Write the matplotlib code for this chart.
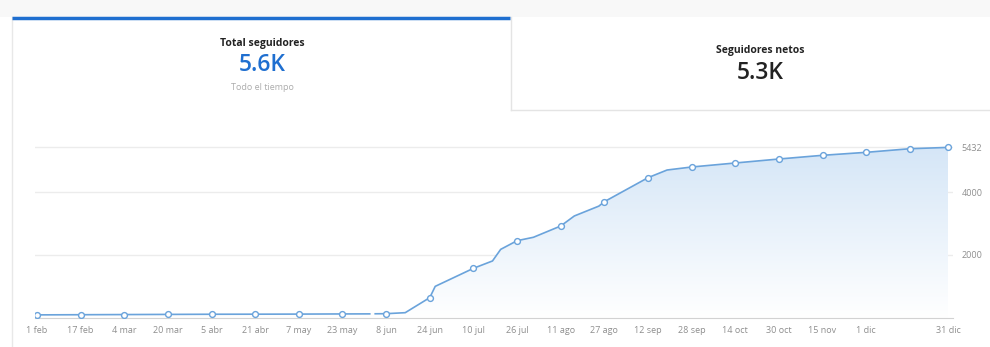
# seguidores totales por fecha - grafico de area con tarjetas arriba
import numpy as np
import pandas as pd
import matplotlib
matplotlib.use('Agg')
import matplotlib.pyplot as plt
import matplotlib.dates as mdates
from matplotlib.patches import Rectangle
from matplotlib.colors import LinearSegmentedColormap

plt.rcParams['font.family'] = ['Open Sans', 'DejaVu Sans']

# datos (2024)
fechas = ['2024-02-01', '2024-02-17', '2024-03-04', '2024-03-20', '2024-04-05',
          '2024-04-21', '2024-05-07', '2024-05-23', '2024-06-02', '2024-06-03',
          '2024-06-04', '2024-06-08', '2024-06-15', '2024-06-24', '2024-06-26',
          '2024-07-10', '2024-07-17', '2024-07-20', '2024-07-26', '2024-08-01',
          '2024-08-11', '2024-08-16', '2024-08-25', '2024-08-27', '2024-09-12',
          '2024-09-19', '2024-09-28', '2024-10-14', '2024-10-30', '2024-11-15',
          '2024-12-01', '2024-12-17', '2024-12-31']
seguidores = [90, 95, 100, 105, 110,
              112, 115, 120, 122, np.nan,
              125, 128, 160, 640, 1000,
              1575, 1810, 2180, 2456, 2565,
              2925, 3245, 3560, 3700, 4466,
              4711, 4807, 4935, 5062, 5180,
              5275, 5390, 5432]

marcadores = ['2024-02-01', '2024-02-17', '2024-03-04', '2024-03-20', '2024-04-05',
              '2024-04-21', '2024-05-07', '2024-05-23', '2024-06-08', '2024-06-24',
              '2024-07-10', '2024-07-26', '2024-08-11', '2024-08-27', '2024-09-12',
              '2024-09-28', '2024-10-14', '2024-10-30', '2024-11-15', '2024-12-01',
              '2024-12-17', '2024-12-31']

ticks_x = ['2024-02-01', '2024-02-17', '2024-03-04', '2024-03-20', '2024-04-05',
           '2024-04-21', '2024-05-07', '2024-05-23', '2024-06-08', '2024-06-24',
           '2024-07-10', '2024-07-26', '2024-08-11', '2024-08-27', '2024-09-12',
           '2024-09-28', '2024-10-14', '2024-10-30', '2024-11-15', '2024-12-01',
           '2024-12-31']
etiquetas_x = ['1 feb', '17 feb', '4 mar', '20 mar', '5 abr', '21 abr', '7 may',
               '23 may', '8 jun', '24 jun', '10 jul', '26 jul', '11 ago', '27 ago',
               '12 sep', '28 sep', '14 oct', '30 oct', '15 nov', '1 dic', '31 dic']
ticks_y = [2000, 4000, 5432]
etiquetas_y = ['2000', '4000', '5432']

azul = '#6aa3db'
W, H = 990, 347
fig = plt.figure(figsize=(W / 100, H / 100), dpi=100)

# fondo y tarjetas (coordenadas en pixeles)
bg = fig.add_axes([0, 0, 1, 1])
bg.set_xlim(0, W)
bg.set_ylim(H, 0)
bg.axis('off')
bg.add_patch(Rectangle((0, 0), W, 17, color='#f8f8f8', lw=0))
bg.plot([12, 12], [17, H], color='#e8e8e8', lw=1)
bg.plot([511, 511], [17, 110], color='#e4e4e4', lw=1)
bg.plot([511, W], [110, 110], color='#e4e4e4', lw=1)
bg.plot([12, 510], [18, 18], color='#1f6fd0', lw=2.5, solid_capstyle='butt')

bg.text(262, 43, 'Total seguidores', ha='center', va='center', fontsize=7.5,
        fontweight='bold', color='#222222')
bg.text(262, 65, '5.6K', ha='center', va='center', fontsize=16.5,
        fontweight='semibold', color='#1f6fd0')
bg.text(262, 87, 'Todo el tiempo', ha='center', va='center', fontsize=6.5,
        color='#acacac')
bg.text(760, 50, 'Seguidores netos', ha='center', va='center', fontsize=7.5,
        fontweight='bold', color='#222222')
bg.text(760, 73, '5.3K', ha='center', va='center', fontsize=16.5,
        fontweight='semibold', color='#222222')

# grafico
x = mdates.date2num(pd.to_datetime(fechas))
y = np.array(seguidores, dtype=float)
xm = mdates.date2num(pd.to_datetime(marcadores))
ym = np.interp(xm, x[~np.isnan(y)], y[~np.isnan(y)])

x0 = mdates.date2num(pd.Timestamp('2024-02-01'))
x1 = mdates.date2num(pd.Timestamp('2024-12-31'))
ppd = (948 - 37) / (x1 - x0)
left_px, right_px = 35, 953
top_px, base_px = 140, 317.7
ymax = (base_px - top_px) / 0.03135

ax = fig.add_axes([left_px / W, (H - base_px) / H, (right_px - left_px) / W,
                   (base_px - top_px) / H])
ax.set_xlim(x0 - (37 - left_px) / ppd, x1 + (right_px - 948) / ppd)
ax.set_ylim(0, ymax)

for v in ticks_y:
    ax.axhline(v, color='#ececec', lw=1, zorder=0)

relleno = ax.fill_between(x, 0, np.nan_to_num(y, nan=123), color='none', lw=0)
grad = np.linspace(0, 1, 256).reshape(-1, 1)
cmap = LinearSegmentedColormap.from_list('g', ['#ffffff', '#d5e6f7'])
img = ax.imshow(grad, aspect='auto', cmap=cmap, origin='lower',
                extent=[x0, x1, 0, 5432], zorder=1)
img.set_clip_path(relleno.get_paths()[0], transform=ax.transData)

ax.plot(x, y, color=azul, lw=1.2, zorder=3)
ax.plot(xm, ym, 'o', ms=4.2, mfc='white', mec=azul, mew=1.0, zorder=4)

ax.set_xticks(mdates.date2num(pd.to_datetime(ticks_x)))
ax.set_xticklabels(etiquetas_x, fontsize=6.5, color='#8e8e8e')
ax.tick_params(axis='x', length=0, pad=6)
ax.yaxis.tick_right()
ax.set_yticks(ticks_y)
ax.set_yticklabels(etiquetas_y, fontsize=6.5, color='#8e8e8e')
ax.tick_params(axis='y', length=0, pad=6)
for s in ['top', 'left', 'right']:
    ax.spines[s].set_visible(False)
ax.spines['bottom'].set_color('#d2d2d2')
ax.patch.set_alpha(0)

fig.savefig('out.png', dpi=100)
